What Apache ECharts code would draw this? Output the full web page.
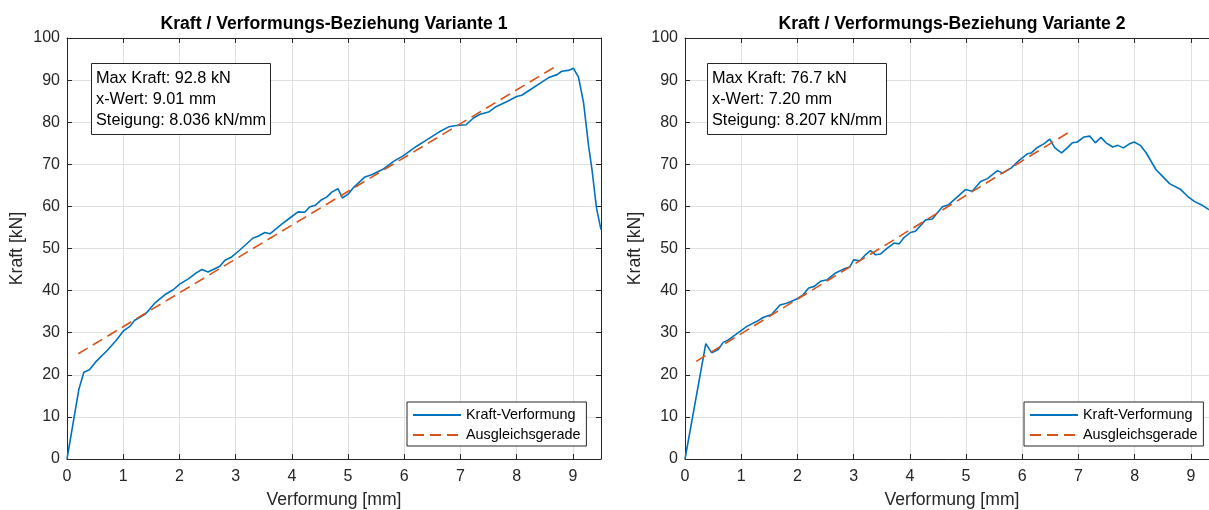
<!DOCTYPE html>
<html>
<head>
<meta charset="utf-8">
<script src="https://cdn.jsdelivr.net/npm/echarts@6/dist/echarts.min.js"></script>
<style>
body { margin: 0; background: #fff; }
#chart { width: 1209px; height: 510px; }
</style>
</head>
<body>
<div id="chart"></div>
<script>
// Variante 1 - Messkurve
var v1X = [0, 0.21, 0.30, 0.40, 0.52, 0.71, 0.87, 1.01, 1.12, 1.20, 1.40, 1.56, 1.74, 1.89, 2.01, 2.16, 2.30, 2.40, 2.51, 2.72,
  2.81, 2.93, 3.08, 3.31, 3.40, 3.52, 3.61, 3.82, 4.00, 4.11, 4.23, 4.32, 4.41, 4.53, 4.62, 4.71, 4.82, 4.90, 5.00, 5.09,
  5.21, 5.30, 5.42, 5.63, 5.81, 5.98, 6.22, 6.40, 6.61, 6.79, 6.93, 7.10, 7.23, 7.35, 7.50, 7.62, 7.83, 8.00, 8.09, 8.24,
  8.42, 8.57, 8.72, 8.80, 8.92, 9.01, 9.10, 9.19, 9.28, 9.34, 9.42, 9.50];
var v1Y = [0, 16.5, 20.6, 21.2, 23.2, 25.7, 28.1, 30.5, 31.5, 32.9, 34.5, 37.0, 39.0, 40.2, 41.6, 42.8, 44.2, 45.0, 44.4, 45.8,
  47.2, 48.0, 49.7, 52.5, 52.9, 53.8, 53.5, 55.8, 57.6, 58.7, 58.6, 59.9, 60.2, 61.6, 62.2, 63.4, 64.2, 62.0, 62.9, 64.4,
  65.9, 67.0, 67.5, 68.9, 70.7, 72.0, 74.3, 75.8, 77.6, 78.9, 79.2, 79.4, 81.0, 81.9, 82.4, 83.6, 84.9, 86.1, 86.4, 87.7,
  89.3, 90.6, 91.3, 92.1, 92.3, 92.8, 90.7, 84.6, 74.3, 68.7, 59.6, 54.5];
var fit1X = [0.2, 8.7];
var fit1Y = [25.0, 93.3];

// Variante 2 - Messkurve
var v2X = [0, 0.37, 0.475, 0.59, 0.68, 0.77, 0.98, 1.10, 1.28, 1.39, 1.54, 1.69, 1.81, 1.99, 2.10, 2.20, 2.30, 2.41, 2.53, 2.68,
  2.82, 2.93, 3.00, 3.11, 3.21, 3.30, 3.39, 3.48, 3.60, 3.72, 3.81, 3.89, 4.01, 4.10, 4.28, 4.40, 4.58, 4.69, 4.84, 4.99,
  5.11, 5.26, 5.38, 5.56, 5.65, 5.80, 5.94, 6.09, 6.16, 6.27, 6.39, 6.49, 6.58, 6.70, 6.80, 6.89, 6.98, 7.10, 7.20, 7.30,
  7.40, 7.49, 7.61, 7.70, 7.80, 7.90, 7.99, 8.10, 8.20, 8.38, 8.47, 8.62, 8.82, 8.94, 9.06, 9.21, 9.30, 9.34];
var v2Y = [0, 27.4, 25.2, 26.0, 27.7, 28.3, 30.3, 31.5, 32.7, 33.6, 34.3, 36.6, 37.0, 38.0, 39.0, 40.6, 41.0, 42.2, 42.6, 44.2,
  45.1, 45.6, 47.3, 47.1, 48.5, 49.5, 48.5, 48.7, 50.1, 51.3, 51.1, 52.5, 53.8, 54.1, 56.8, 57.0, 59.9, 60.4, 62.2, 64.0,
  63.6, 65.9, 66.6, 68.5, 67.9, 69.1, 70.9, 72.5, 72.7, 74.0, 74.9, 76.0, 73.9, 72.7, 73.9, 75.1, 75.3, 76.5, 76.7, 75.1,
  76.4, 75.1, 74.1, 74.5, 73.9, 74.8, 75.3, 74.5, 72.8, 68.7, 67.5, 65.4, 64.0, 62.4, 61.2, 60.2, 59.4, 59.1];
var fit2X = [0.2, 6.9];
var fit2Y = [23.2, 78.2];

var titles = ['Kraft / Verformungs-Beziehung Variante 1', 'Kraft / Verformungs-Beziehung Variante 2'];
var infoText = [
  'Max Kraft: 92.8 kN\nx-Wert: 9.01 mm\nSteigung: 8.036 kN/mm',
  'Max Kraft: 76.7 kN\nx-Wert: 7.20 mm\nSteigung: 8.207 kN/mm'
];
var xTicks = [0, 9.5, 1];
var yTicks = [0, 100, 10];

function zip(xs, ys) {
  return xs.map(function (x, i) { return [x, ys[i]]; });
}

var axisCol = '#262626';
var gridCol = '#dfdfdf';
var font = 'Liberation Sans, Arial, Helvetica, sans-serif';

function xAx(grid, top) {
  return {
    type: 'value', gridIndex: grid, position: top ? 'top' : 'bottom',
    min: xTicks[0], max: xTicks[1], interval: xTicks[2],
    name: top ? '' : 'Verformung [mm]', nameLocation: 'middle', nameGap: 32,
    nameTextStyle: { fontSize: 17.6, color: axisCol, fontFamily: font },
    axisLine: { show: true, onZero: false, lineStyle: { color: axisCol, width: 1 } },
    axisTick: { show: true, inside: true, length: 5, lineStyle: { color: axisCol } },
    axisLabel: {
      show: !top, margin: 10, fontSize: 16, color: axisCol, fontFamily: font,
      formatter: function (v) { return Number.isInteger(v) ? String(v) : ''; }
    },
    splitLine: { show: !top, lineStyle: { color: gridCol, width: 1 } }
  };
}

function yAx(grid, right) {
  return {
    type: 'value', gridIndex: grid, position: right ? 'right' : 'left',
    min: yTicks[0], max: yTicks[1], interval: yTicks[2],
    name: right ? '' : 'Kraft [kN]', nameLocation: 'middle', nameGap: 41,
    nameTextStyle: { fontSize: 17.6, color: axisCol, fontFamily: font },
    axisLine: { show: true, onZero: false, lineStyle: { color: axisCol, width: 1 } },
    axisTick: { show: true, inside: true, length: 5, lineStyle: { color: axisCol } },
    axisLabel: { show: !right, margin: 7, fontSize: 16, color: axisCol, fontFamily: font },
    splitLine: { show: !right, lineStyle: { color: gridCol, width: 1 } }
  };
}

function titleAt(text, cx) {
  return {
    text: text, left: cx, top: 15, textAlign: 'center', padding: 0,
    textStyle: { fontSize: 17.6, fontWeight: 'bold', color: '#000', fontFamily: font }
  };
}

function boxAt(text, x) {
  return {
    text: text, left: x, top: 63, padding: [5, 5, 4, 5],
    borderColor: axisCol, borderWidth: 1, backgroundColor: '#fff',
    textStyle: { fontSize: 16.3, fontWeight: 'normal', lineHeight: 21, color: '#000', fontFamily: font }
  };
}

function legendAt(x) {
  return {
    left: x, top: 402, orient: 'vertical',
    data: ['Kraft-Verformung', 'Ausgleichsgerade'],
    itemWidth: 48, itemHeight: 14, itemGap: 6,
    padding: [6, 6, 4, 5],
    borderColor: axisCol, borderWidth: 1, backgroundColor: '#fff',
    itemStyle: { opacity: 0 },
    textStyle: { fontSize: 14.4, color: '#000', fontFamily: font },
    selectedMode: false
  };
}

function measured(data, xi, yi) {
  return {
    name: 'Kraft-Verformung', type: 'line', xAxisIndex: xi, yAxisIndex: yi,
    data: data, symbol: 'none', showSymbol: false,
    lineStyle: { color: '#0072BD', width: 1.6 }, itemStyle: { color: '#0072BD' }, z: 3
  };
}

function fitted(data, xi, yi) {
  return {
    name: 'Ausgleichsgerade', type: 'line', xAxisIndex: xi, yAxisIndex: yi,
    data: data, symbol: 'none', showSymbol: false,
    lineStyle: { color: '#D95319', width: 1.6, type: [11, 6] }, itemStyle: { color: '#D95319' }, z: 4
  };
}

var chart = echarts.init(document.getElementById('chart'));
chart.setOption({
  animation: false,
  backgroundColor: '#fff',
  title: [
    titleAt(titles[0], 334),
    titleAt(titles[1], 952),
    boxAt(infoText[0], 91),
    boxAt(infoText[1], 707)
  ],
  legend: [legendAt(407), legendAt(1024)],
  grid: [
    { left: 67, top: 38, width: 534, height: 421, containLabel: false, outerBoundsMode: 'none' },
    { left: 685, top: 38, width: 534, height: 421, containLabel: false, outerBoundsMode: 'none' }
  ],
  xAxis: [xAx(0, false), xAx(0, true), xAx(1, false), xAx(1, true)],
  yAxis: [yAx(0, false), yAx(0, true), yAx(1, false), yAx(1, true)],
  series: [
    measured(zip(v1X, v1Y), 0, 0),
    fitted(zip(fit1X, fit1Y), 0, 0),
    measured(zip(v2X, v2Y), 2, 2),
    fitted(zip(fit2X, fit2Y), 2, 2)
  ]
});
</script>
</body>
</html>
